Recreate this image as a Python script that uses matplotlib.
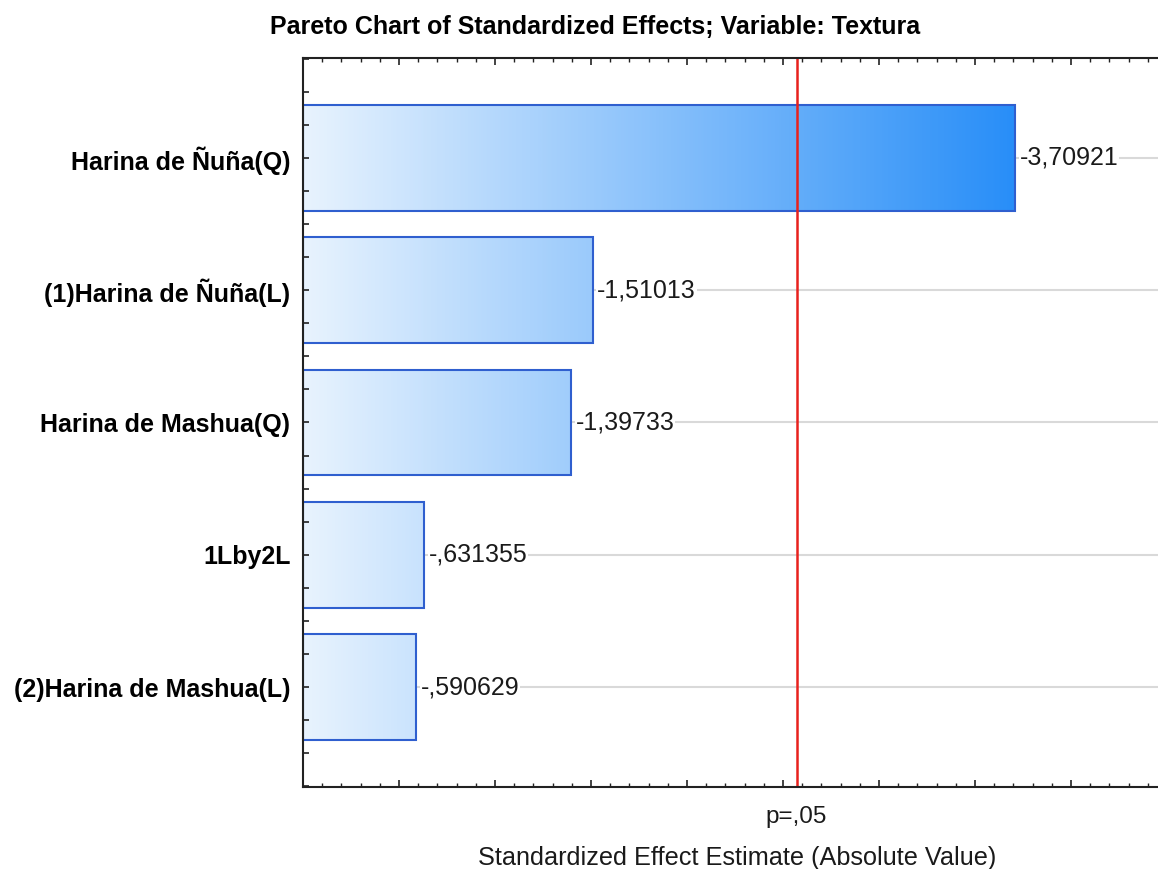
"""Pareto chart of standardized effects for the texture response."""
import numpy as np
import matplotlib
matplotlib.use('Agg')
import matplotlib.pyplot as plt
from matplotlib.colors import LinearSegmentedColormap, Normalize
from matplotlib.ticker import MultipleLocator
import matplotlib.transforms as mtransforms

plt.rcParams['font.family'] = ['Liberation Sans', 'DejaVu Sans']

effects = ['Harina de Ñuña(Q)', '(1)Harina de Ñuña(L)', 'Harina de Mashua(Q)',
           '1Lby2L', '(2)Harina de Mashua(L)']
estimates = [-3.70921, -1.51013, -1.39733, -0.631355, -0.590629]
t_crit = 2.570582  # two-sided t, alpha = .05, df = 5
p_label = 'p=,05'


def fmt(v):
    s = f'{v:.6g}'
    s = s.replace('-0.', '-.').replace('.', ',')
    return s


fig = plt.figure(figsize=(11.58, 8.69), dpi=100)
ax = fig.add_axes([303 / 1158, 1 - 787 / 869, (1167 - 303) / 1158, (787 - 58) / 869])

ypos = np.arange(len(effects))
widths = np.abs(estimates)

xmax = 4.5

# horizontal guide lines at each effect
for y in ypos:
    ax.axhline(y, color='#d9d9d9', lw=1.5, zorder=0)

bars = ax.barh(ypos, widths, height=0.8, color='none', edgecolor='#2f5fcf',
               linewidth=1.5, zorder=3)

# left-to-right gradient fill, clipped to each bar
cmap = LinearSegmentedColormap.from_list('effect', ['#e8f3fe', '#288ef8'])
grad = np.linspace(0, xmax, 512).reshape(1, -1)
norm = Normalize(0, widths.max())
for bar in bars:
    im = ax.imshow(grad, cmap=cmap, norm=norm, aspect='auto',
                   extent=(0, xmax, len(effects), -1), zorder=2,
                   interpolation='bilinear')
    im.set_clip_path(bar)
ax.set_xlim(0, xmax)
ax.set_ylim(len(effects) - 0.244, -0.756)

for y, w, v in zip(ypos, widths, estimates):
    ax.text(w + 0.022, y, fmt(v), va='center', ha='left', fontsize=18,
            color='#1a1a1a', zorder=4,
            bbox=dict(facecolor='white', edgecolor='none', pad=0.5))

ax.axvline(t_crit, color='#e8211d', lw=1.8, zorder=5)

ax.set_yticks(ypos)
ax.set_yticklabels(effects, fontsize=18, fontweight='bold')
ax.yaxis.set_minor_locator(MultipleLocator(0.25))
ax.xaxis.set_major_locator(MultipleLocator(0.5))
ax.xaxis.set_minor_locator(MultipleLocator(0.1))
ax.tick_params(axis='x', which='both', direction='in', top=True, bottom=True,
               labelbottom=False, color='#222222')
ax.tick_params(axis='x', which='major', length=5, width=1.2)
ax.tick_params(axis='x', which='minor', length=3, width=1.0)
ax.tick_params(axis='y', which='both', direction='in', length=4, width=1.2,
               color='#222222', pad=9)
ax.tick_params(axis='y', which='minor', left=True)

# keep ticks and frame above the bars
ax.xaxis.set_zorder(6)
ax.yaxis.set_zorder(6)
for side in ['left', 'bottom', 'top']:
    ax.spines[side].set_linewidth(1.5)
    ax.spines[side].set_color('#222222')
    ax.spines[side].set_zorder(6)
ax.spines['right'].set_visible(False)

trans = mtransforms.blended_transform_factory(ax.transData, ax.transAxes)
ax.text(t_crit, -0.041, p_label, transform=trans, ha='center', va='center',
        fontsize=17.5, color='#1a1a1a')
fig.text(737.5 / 1158, 1 - 858 / 869, 'Standardized Effect Estimate (Absolute Value)',
         ha='center', va='center', fontsize=18.2, color='#1a1a1a')
fig.text(595 / 1158, 1 - 27 / 869,
         'Pareto Chart of Standardized Effects; Variable: Textura',
         ha='center', va='center', fontsize=18, fontweight='bold')

fig.savefig('out.png', dpi=100)
